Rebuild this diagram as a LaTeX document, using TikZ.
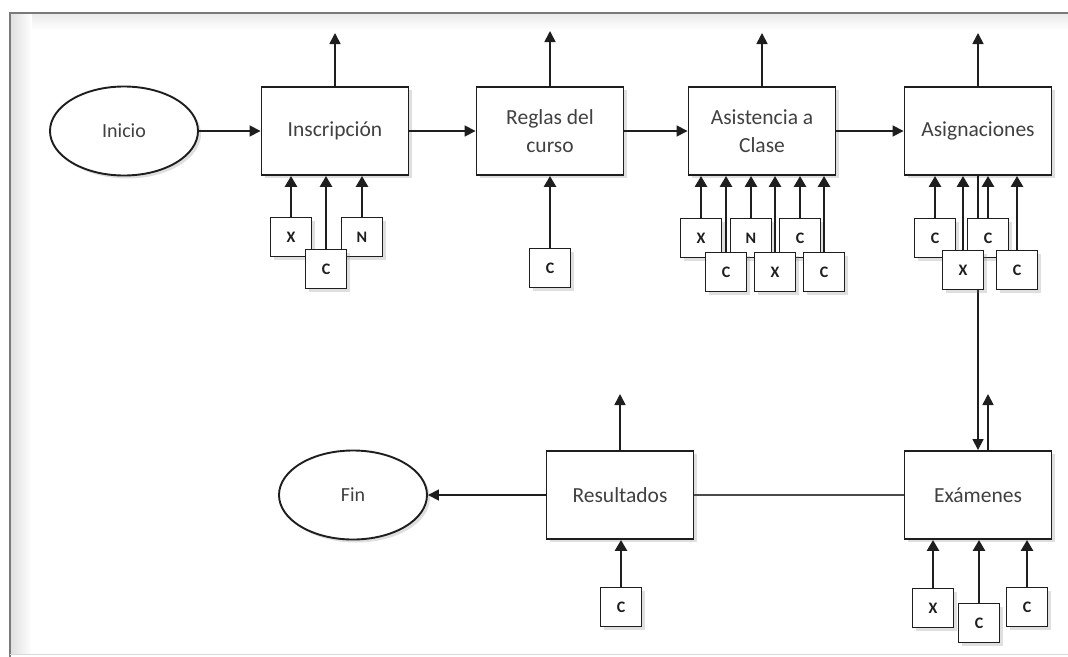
\documentclass[tikz,border=0pt]{standalone}
\usepackage{fontspec}
\setmainfont{Carlito}
\usetikzlibrary{arrows.meta,shapes.geometric,shadows}

\definecolor{inkline}{HTML}{1E1E1E}
\definecolor{inktext}{HTML}{404040}
\definecolor{frameline}{HTML}{7A7A7A}

\begin{document}
\begin{tikzpicture}[x=1pt,y=-1pt,
  proc/.style={draw=inkline, line width=1.9pt, fill=white, align=center,
    minimum width=147pt, minimum height=88pt, text=inktext,
    font=\fontsize{21.5}{28}\selectfont,
    drop shadow={opacity=0.25, shadow xshift=3pt, shadow yshift=-3pt}},
  term/.style={proc, ellipse, minimum width=148pt, minimum height=89pt,
    font=\fontsize{20}{24}\selectfont},
  tag/.style={draw=inkline, line width=1.8pt, fill=white,
    minimum width=41pt, minimum height=39pt, inner sep=0pt,
    text=inkline, font=\bfseries\fontsize{16}{18}\selectfont,
    drop shadow={opacity=0.25, shadow xshift=3pt, shadow yshift=-3pt}},
  feed/.style={-{Triangle[length=11pt,width=12pt]}, line width=2.8pt, draw=inkline},
  outflow/.style={-{Triangle[length=11pt,width=11pt]}, line width=1.7pt, draw=inkline},
  flow/.style={-{Triangle[length=11pt,width=11pt]}, line width=1.7pt, draw=inkline}
]

% ------------------------
% Canvas and frame
% ------------------------
\useasboundingbox (0,0) rectangle (1068,656);
\shade[top color=black!8, bottom color=white] (11,14) rectangle (1068,30);
\shade[left color=black!12, right color=white] (11,14) rectangle (32,654);
\draw[frameline, line width=2.2pt] (10,660) -- (10,13) -- (1070,13);
\draw[black!15, line width=1pt] (10,654) -- (1068,654);

% ------------------------
% Process steps
% ------------------------
\node[term] (inicio) at (124,131) {Inicio};
\node[proc] (insc)   at (335,131) {Inscripción};
\node[proc] (reglas) at (550,131) {Reglas del\\curso};
\node[proc] (asist)  at (762,131) {Asistencia a\\Clase};
\node[proc] (asig)   at (978,131) {Asignaciones};
\node[proc] (exam)   at (978,495) {Exámenes};
\node[proc] (result) at (620,495) {Resultados};
\node[term] (fin)    at (353,495) {Fin};

% free ends of the outputs
\coordinate (insc-out)   at (335,33);
\coordinate (reglas-out) at (550,31);
\coordinate (asist-out)  at (762,33);
\coordinate (asig-out)   at (978,33);
\coordinate (exam-out)   at (988,394);
\coordinate (result-out) at (620,394);

% ------------------------
% Main flow
% ------------------------
\draw[flow] (inicio.east) -- (insc.west);
\draw[flow] (insc.east) -- (reglas.west);
\draw[flow] (reglas.east) -- (asist.west);
\draw[flow] (asist.east) -- (asig.west);
\draw[flow] (asig.south) -- (exam.north);
\draw[line width=1.3pt, draw=inkline!80] (exam.west) -- (result.east);
\draw[flow] (result.west) -- (fin.east);

% outputs
\foreach \p in {insc,reglas,asist,asig,result}
  \draw[outflow] (\p.north) -- (\p-out);
\draw[outflow] (exam-out |- exam.north) -- (exam-out);

% ------------------------
% Inputs (X, C, N)
% ------------------------
% Inscripción
\node[tag] (ix) at (291,237) {X};
\node[tag] (in) at (362,237) {N};
\node[tag] (ic) at (326,269) {C};
% Reglas del curso
\node[tag] (rc) at (550,268) {C};
% Asistencia a Clase
\node[tag] (ax1) at (701,238) {X};
\node[tag] (an)  at (751,238) {N};
\node[tag] (ac1) at (800,238) {C};
\node[tag] (ac2) at (726,272) {C};
\node[tag] (ax2) at (775,272) {X};
\node[tag] (ac3) at (824,272) {C};
% Asignaciones
\node[tag] (gc1) at (935,238) {C};
\node[tag] (gc2) at (988,238) {C};
\node[tag] (gx)  at (963,270) {X};
\node[tag] (gc3) at (1017,270) {C};
% Exámenes
\node[tag] (ex)  at (933,608) {X};
\node[tag] (ec1) at (979,623) {C};
\node[tag] (ec2) at (1027,607) {C};
% Resultados
\node[tag] (rsc) at (621,607) {C};

\foreach \t/\p in {ix/insc, ic/insc, in/insc, rc/reglas,
    ax1/asist, an/asist, ac1/asist, ac2/asist, ax2/asist, ac3/asist,
    gc1/asig, gc2/asig, gx/asig, gc3/asig,
    ex/exam, ec1/exam, ec2/exam, rsc/result}
  \draw[feed] (\t.north) -- (\t.north |- \p.south);

\end{tikzpicture}
\end{document}
